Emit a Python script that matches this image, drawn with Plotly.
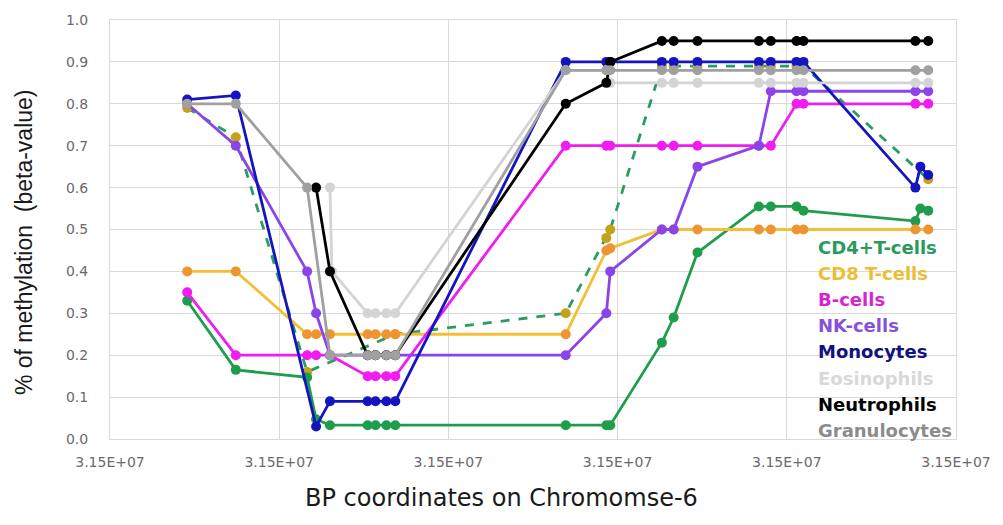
import plotly.graph_objects as go

# CpG site positions on chromosome 6 (bp)
CPG_POS = [
    31500913, 31501487, 31502330, 31502377, 31502436, 31502600, 31502623,
    31503045, 31503138, 31503267, 31503372, 31505387, 31505867, 31505913,
    31506523, 31506663, 31506944, 31507670, 31507811, 31508115, 31508197,
    31509520, 31509579, 31509672,
]

# beta-values per cell type (None = site not measured)
CD4_T = [0.33, 0.165, 0.147, None, 0.047, 0.033, None, 0.033, 0.033, 0.033, 0.033,
         0.033, 0.033, 0.033, 0.23, 0.29, 0.445, 0.555, 0.555, 0.555, 0.545,
         0.52, 0.55, 0.545]
CD8_T = [0.40, 0.40, 0.25, None, 0.25, 0.25, None, 0.25, 0.25, 0.25, 0.25,
         0.25, 0.45, 0.455, 0.50, 0.50, 0.50, 0.50, 0.50, 0.50, 0.50,
         0.50, None, 0.50]
B_CELLS = [0.35, 0.20, 0.20, None, 0.20, 0.20, None, 0.15, 0.15, 0.15, 0.15,
           0.70, 0.70, 0.70, 0.70, 0.70, 0.70, 0.70, 0.70, 0.80, 0.80,
           0.80, None, 0.80]
NK_CELLS = [0.80, 0.70, 0.40, None, 0.30, 0.20, None, 0.20, 0.20, 0.20, 0.20,
            0.20, 0.30, 0.40, 0.50, 0.50, 0.65, 0.70, 0.83, 0.83, 0.83,
            0.83, None, 0.83]
MONOCYTES = [0.81, 0.82, None, None, 0.03, 0.09, None, 0.09, 0.09, 0.09, 0.09,
             0.90, 0.90, 0.90, 0.90, 0.90, 0.90, 0.90, 0.90, 0.90, 0.90,
             0.60, 0.65, 0.63]
EOSINOPHILS = [None, None, None, None, None, 0.60, 0.40, 0.30, 0.30, 0.30, 0.30,
               0.88, 0.88, 0.85, 0.85, 0.85, 0.85, 0.85, 0.85, 0.85, 0.85,
               0.85, None, 0.85]
NEUTROPHILS = [None, None, None, None, 0.60, 0.40, None, 0.20, 0.20, 0.20, 0.20,
               0.80, 0.85, 0.90, 0.95, 0.95, 0.95, 0.95, 0.95, 0.95, 0.95,
               0.95, None, 0.95]
GRANULOCYTES = [0.80, 0.80, 0.60, None, None, 0.20, None, 0.20, 0.20, 0.20, 0.20,
                0.88, 0.88, 0.88, 0.88, 0.88, 0.88, 0.88, 0.88, 0.88, 0.88,
                0.88, None, 0.88]
# unlabelled dashed profile
T_DASHED = [0.79, 0.72, 0.16, None, None, None, None, None, None, None, 0.25,
            0.30, 0.48, 0.50, 0.89, 0.89, 0.89, 0.89, 0.89, 0.89, 0.89,
            None, None, 0.62]

X_TICKS = [31500000, 31502000, 31504000, 31506000, 31508000, 31510000]
X_TICK_TEXT = [f"{v:.2E}" for v in X_TICKS]

SERIES = [
    # name, values, line colour, marker colour, legend text colour
    ("CD4+T-cells", CD4_T, "#1E9E4C", "#1E9E4C", "#2A9A5A"),
    ("CD8 T-cells", CD8_T, "#F2C037", "#EE9430", "#EDBE35"),
    ("B-cells", B_CELLS, "#F01CF0", "#F01CF0", "#D824D0"),
    ("NK-cells", NK_CELLS, "#8B44E8", "#8B44E8", "#8850D8"),
    ("Monocytes", MONOCYTES, "#1414C0", "#1414C0", "#12127E"),
    ("Eosinophils", EOSINOPHILS, "#D4D4D4", "#D4D4D4", "#D8D8D8"),
    ("Neutrophils", NEUTROPHILS, "#000000", "#000000", "#000000"),
    ("Granulocytes", GRANULOCYTES, "#A0A0A0", "#A0A0A0", "#8C8C8C"),
]

fig = go.Figure()

fig.add_trace(go.Scatter(
    x=CPG_POS, y=T_DASHED, mode="lines+markers", connectgaps=True,
    line=dict(color="#2A9E62", width=2.8, dash="dash"),
    marker=dict(color="#C4A21C", size=10),
    showlegend=False,
))

for name, vals, lc, mc, _ in SERIES:
    fig.add_trace(go.Scatter(
        x=CPG_POS, y=vals, name=name, mode="lines+markers", connectgaps=True,
        line=dict(color=lc, width=2.8),
        marker=dict(color=mc, size=10),
        showlegend=False,
    ))

# legend drawn as coloured labels inside the plot area
LEGEND_TOP = 0.457
LEGEND_STEP = 0.0623
for i, (name, _, _, _, tc) in enumerate(SERIES):
    fig.add_annotation(
        xref="paper", yref="paper", x=0.834, y=LEGEND_TOP - i * LEGEND_STEP,
        xanchor="left", yanchor="middle", showarrow=False,
        text=f"<b>{name}</b>",
        font=dict(family="DejaVu Sans", size=18, color=tc),
    )

# axis titles
fig.add_annotation(
    xref="paper", yref="paper", x=0.463, y=-0.14,
    xanchor="center", yanchor="middle", showarrow=False,
    text="BP coordinates on Chromomse-6",
    font=dict(family="DejaVu Sans", size=24, color="#1A1A1A"),
)
fig.add_annotation(
    xref="paper", yref="paper", x=-0.101, y=0.469,
    xanchor="center", yanchor="middle", showarrow=False, textangle=-90,
    text="% of methylation  (beta-value)",
    font=dict(family="Liberation Sans", size=23, color="#1A1A1A"),
)

grid = "#D9D9D9"
fig.update_layout(
    width=1003, height=525,
    margin=dict(l=110, r=38, t=17, b=86),
    paper_bgcolor="white", plot_bgcolor="white",
    xaxis=dict(
        range=[X_TICKS[0], X_TICKS[-1]],
        tickvals=X_TICKS, ticktext=X_TICK_TEXT,
        showgrid=True, gridcolor=grid, gridwidth=1,
        showline=True, linecolor=grid, linewidth=1, mirror=True,
        zeroline=False, ticks="", ticklabelstandoff=10,
        tickfont=dict(family="DejaVu Sans", size=14, color="#6A6A6A"),
    ),
    yaxis=dict(
        range=[0, 1.0], dtick=0.1, tickformat=".1f",
        showgrid=True, gridcolor=grid, gridwidth=1,
        showline=True, linecolor=grid, linewidth=1, mirror=True,
        zeroline=False, ticks="", ticklabelstandoff=18,
        tickfont=dict(family="DejaVu Sans", size=14, color="#6A6A6A"),
    ),
)

fig.write_html("out.html")
